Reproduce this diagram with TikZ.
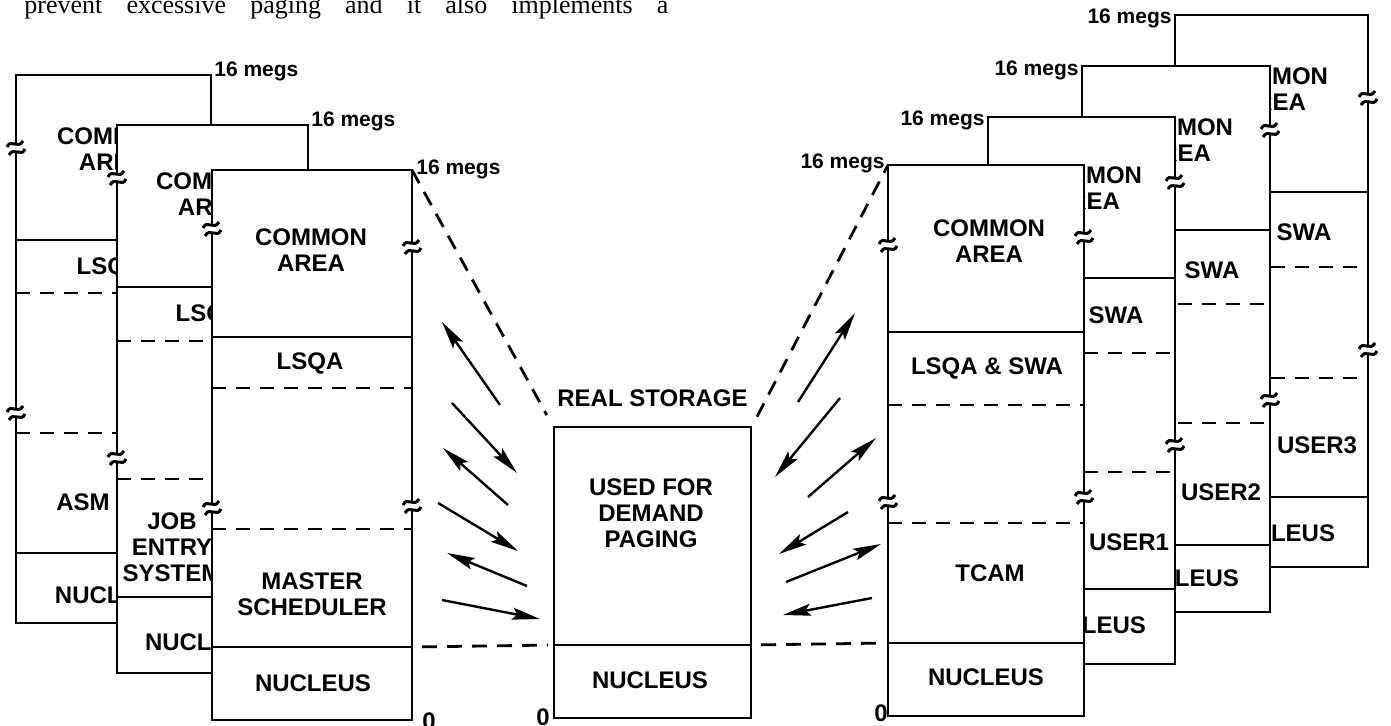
\documentclass[tikz,border=0pt]{standalone}
\usepackage{fontspec}
\setmainfont{Liberation Serif}
\newfontfamily\hvfont{Liberation Sans}
\usetikzlibrary{arrows.meta,positioning}

\begin{document}
\begin{tikzpicture}[x=0.5pt, y=-0.5pt, >={Stealth[length=14pt,width=6pt,inset=2.5pt]},
    area/.style={draw, line width=1.4pt, fill=white},
    cut/.style={line width=1.4pt},
    seam/.style={line width=1.4pt, dash pattern=on 7pt off 5pt},
    link/.style={line width=1.4pt, dash pattern=on 7.5pt off 5pt},
    lbl/.style={font=\hvfont\bfseries\fontsize{12}{13}\selectfont, align=center, inner sep=0pt},
    megs/.style={font=\hvfont\bfseries\fontsize{10.5}{12}\selectfont, inner sep=0pt},
    ar/.style={line width=1.2pt,->},
    brk/.pic={\fill[white] (-4,-3) rectangle (4,3);
        \draw[line width=1.5pt] (-9,-1) .. controls (-5,-10) and (2,2) .. (7,-7);
        \draw[line width=1.5pt] (-7,7) .. controls (-2,-2) and (5,10) .. (9,1);}]
    \useasboundingbox (0,0) rectangle (1391,726);
    \clip (0,0) rectangle (1391,726);
    \node [anchor=base west, inner sep=0pt, font=\fontsize{13}{15}\selectfont] (intro) at (24,14)
        {\makebox[322pt][s]{prevent excessive paging and it also implements a}};

    \draw [area] (16,75) rectangle (211,623);
    \draw [cut] (16,240) -- (211,240);
    \draw [seam] (16,293) -- (211,293);
    \draw [seam] (16,433) -- (211,433);
    \draw [cut] (16,553) -- (211,553);
    \node [megs, anchor=west] (megsA) at (214,71) {16 megs};
    \node [lbl] (comA) at (113,149) {COMMON\\AREA};
    \node [lbl] (lsqaA) at (110,268) {LSQA};
    \node [lbl] (asm) at (83,502) {ASM};
    \node [lbl] (nucA) at (113,595) {NUCLEUS};

    \draw [area] (117,125) rectangle (308,673);
    \draw [cut] (117,287) -- (308,287);
    \draw [seam] (117,341) -- (308,341);
    \draw [seam] (117,479) -- (308,479);
    \draw [cut] (117,597) -- (308,597);
    \node [megs, anchor=west] (megsB) at (311,121) {16 megs};
    \node [lbl] (comB) at (212,194) {COMMON\\AREA};
    \node [lbl] (lsqaB) at (209,315) {LSQA};
    \node [lbl] (jes) at (172,547) {JOB\\ENTRY\\SYSTEM};
    \node [lbl] (nucB) at (203,642) {NUCLEUS};

    \draw [area] (212,170) rectangle (412,720);
    \draw [cut] (212,337) -- (412,337);
    \draw [seam] (212,388) -- (412,388);
    \draw [seam] (212,529) -- (412,529);
    \draw [cut] (212,647) -- (412,647);
    \coordinate (mstop) at (412,170);
    \coordinate (msnuc) at (412,647);
    \node [megs, anchor=west] (megsC) at (416,169) {16 megs};
    \node [lbl] (comC) at (311,250) {COMMON\\AREA};
    \node [lbl] (lsqaC) at (310,363) {LSQA};
    \node [lbl] (msched) at (312,594) {MASTER\\SCHEDULER};
    \node [lbl] (nucC) at (313,683) {NUCLEUS};
    \node [lbl] (zeroC) at (429,721) {0};

    \node [area, minimum width=98.5pt, minimum height=145.5pt, inner sep=0pt] (real) at (652.5,572.5) {};
    \coordinate (rnl) at (554,645);
    \coordinate (rnr) at (751,645);
    \draw [cut] (rnl) -- (rnr);
    \node [lbl, above=9pt of real] (rslbl) {REAL STORAGE};
    \node [lbl] (demand) at (651,513) {USED FOR\\DEMAND\\PAGING};
    \node [lbl] (nucR) at (650,680) {NUCLEUS};
    \node [lbl] (zeroR) at (543,717) {0};

    \draw [area] (1175,15) rectangle (1368,567);
    \draw [cut] (1175,192) -- (1368,192);
    \draw [seam] (1175,267) -- (1368,267);
    \draw [seam] (1175,378) -- (1368,378);
    \draw [cut] (1175,497) -- (1368,497);
    \node [megs, anchor=east] (megsG) at (1172,18) {16 megs};
    \node [lbl] (comG) at (1272,89) {COMMON\\AREA};
    \node [lbl] (swaG) at (1304,232) {SWA};
    \node [lbl] (user3) at (1317,445) {USER3};
    \node [lbl] (nucG) at (1277,533) {NUCLEUS};

    \draw [area] (1082,66) rectangle (1270,612);
    \draw [cut] (1082,230) -- (1270,230);
    \draw [seam] (1082,304) -- (1270,304);
    \draw [seam] (1082,423) -- (1270,423);
    \draw [cut] (1082,545) -- (1270,545);
    \node [megs, anchor=east] (megsF) at (1079,70) {16 megs};
    \node [lbl] (comF) at (1177,140) {COMMON\\AREA};
    \node [lbl] (swaF) at (1212,270) {SWA};
    \node [lbl] (user2) at (1221,492) {USER2};
    \node [lbl] (nucF) at (1181,578) {NUCLEUS};

    \draw [area] (988,117) rectangle (1175,664);
    \draw [cut] (988,278) -- (1175,278);
    \draw [seam] (988,353) -- (1175,353);
    \draw [seam] (988,472) -- (1175,472);
    \draw [cut] (988,589) -- (1175,589);
    \node [megs, anchor=east] (megsE) at (985,120) {16 megs};
    \node [lbl] (comE) at (1086,188) {COMMON\\AREA};
    \node [lbl] (swaE) at (1116,315) {SWA};
    \node [lbl] (user1) at (1129,542) {USER1};
    \node [lbl] (nucE) at (1088,625) {NUCLEUS};

    \draw [area] (888,165) rectangle (1084,716);
    \draw [cut] (888,332) -- (1084,332);
    \draw [seam] (888,405) -- (1084,405);
    \draw [seam] (888,523) -- (1084,523);
    \draw [cut] (888,643) -- (1084,643);
    \coordinate (tctop) at (888,165);
    \coordinate (tcnuc) at (888,643);
    \node [megs, anchor=east] (megsD) at (885,163) {16 megs};
    \node [lbl] (comD) at (989,241) {COMMON\\AREA};
    \node [lbl] (lsqaD) at (987,368) {LSQA \& SWA};
    \node [lbl] (tcam) at (990,573) {TCAM};
    \node [lbl] (nucD) at (986,677) {NUCLEUS};
    \node [lbl] (zeroD) at (881,713) {0};

    \foreach \x/\y in {16/148, 16/413, 117/178, 117/458, 212/229, 212/508, 412/247, 412/506,
        888/245, 888/502, 1084/237, 1084/497, 1175/182, 1175/445, 1270/130, 1270/400, 1368/98, 1368/350}
        \pic at (\x,\y) {brk};

    \draw [link, shorten >=6pt] (mstop) -- (real.north west);
    \draw [link, shorten <=5pt] (real.north east) -- (tctop);
    \draw [link, shorten <=5pt, shorten >=3pt] (msnuc) -- (rnl);
    \draw [link, shorten <=5pt, shorten >=5pt] (rnr) -- (tcnuc);

    \foreach \xa/\ya/\xb/\yb in {500/405/442/322, 452/403/517/473, 508/505/443/448,
        438/503/518/551, 527/586/447/553, 442/600/540/619,
        798/402/855/313, 840/398/775/477, 808/497/876/438,
        848/512/779/554, 786/582/881/544, 872/598/783/615}
        \draw [ar] (\xa,\ya) -- (\xb,\yb);
\end{tikzpicture}
\end{document}
